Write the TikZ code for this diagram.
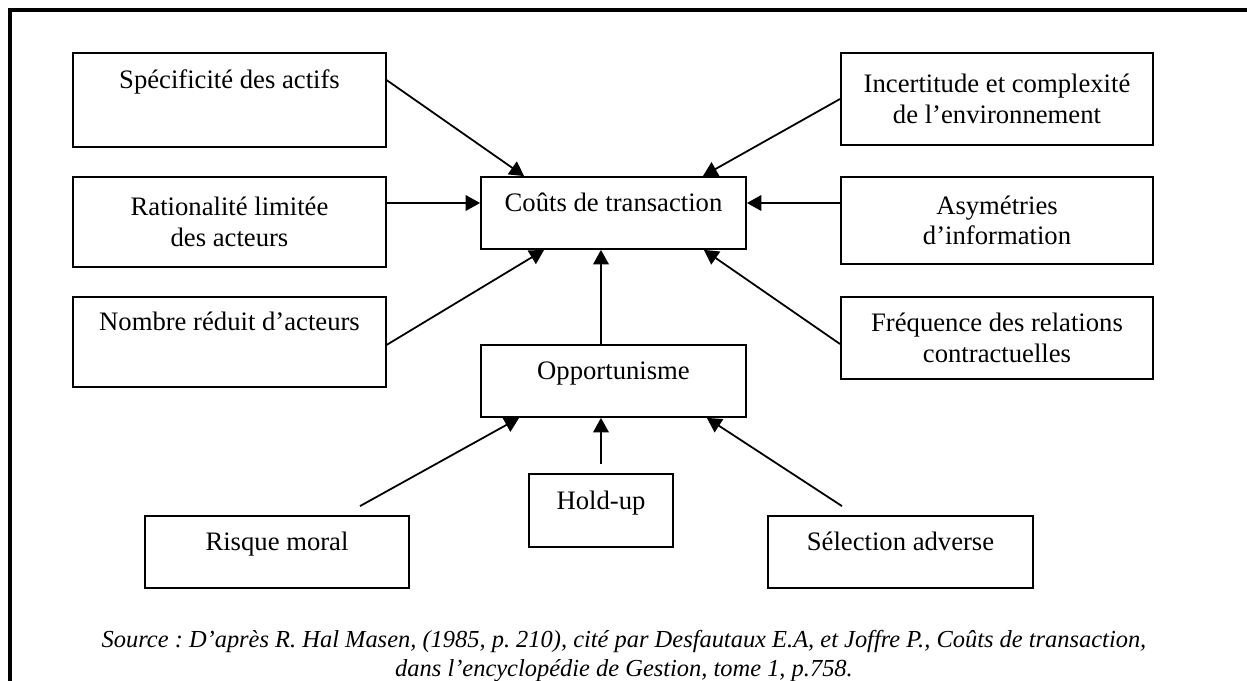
\documentclass[tikz,border=0pt]{standalone}
\usepackage{fontspec}
\setmainfont{Liberation Serif}
\usetikzlibrary{arrows.meta,calc}

\begin{document}
\begin{tikzpicture}[>={Triangle[length=6.5pt,width=7pt]}, x=0.45pt, y=-0.45pt, line width=0.8pt]
  \tikzstyle{K}=[draw, rectangle, inner sep=0pt, align=center, font=\fontsize{12}{13.8}\selectfont]
  \tikzstyle{W}=[K, minimum width=140.5pt]
  \tikzstyle{N}=[K, minimum width=119.25pt, minimum height=32.4pt]
  \tikzstyle{L}=[text height=8pt, text depth=9pt]
  \tikzstyle{H}=[text height=8pt, text depth=18pt]
  \tikzstyle{S}=[align=center, font=\fontsize{11}{12.8}\selectfont\itshape\frenchspacing]

  \useasboundingbox (0,0) rectangle (1247,681);
  \draw[line width=1.4pt] (1247,10) -- (10,10) -- (10,681);

  \node[W, H, minimum height=42.3pt] at (229.5,100) (spec) {Spécificité des actifs};
  \node[W, minimum height=40.5pt] at (229.5,222) (rational) {Rationalité limitée\\des acteurs};
  \node[W, H, minimum height=40.5pt] at (229.5,342) (nombre) {Nombre réduit d’acteurs};

  \node[W, minimum height=41.4pt] at (997,99) (incert) {Incertitude et complexité\\de l’environnement};
  \node[W, minimum height=39.15pt] at (997,220.5) (asym) {Asymétries\\d’information};
  \node[W, minimum height=36.9pt] at (997,338) (freq) {Fréquence des relations\\contractuelles};

  \node[N, L] at (613.5,213) (couts) {Coûts de transaction};
  \node[N, L] at (613.5,381) (oppor) {Opportunisme};

  \node[K, L, minimum width=64.8pt, minimum height=32.85pt] at (601,510.5) (holdup) {Hold-up};
  \node[N, L, minimum width=118.8pt] at (277,552) (risque) {Risque moral};
  \node[N, L] at (900.5,552) (selection) {Sélection adverse};

  \draw[->] ($(spec.east)+(0,-20)$) -- ($(couts.north west)+(44,0)$);
  \draw[->] (incert.west) -- ($(couts.north east)+(-44,0)$);
  \draw[->] ($(rational.east)+(0,-19)$) -- ($(couts.west)+(0,-10)$);
  \draw[->] ($(asym.west)+(0,-17.5)$) -- ($(couts.east)+(0,-10)$);
  \draw[->] ($(nombre.east)+(0,3)$) -- ($(couts.south west)+(64,0)$);
  \draw[->] ($(freq.west)+(0,6)$) -- ($(couts.south east)+(-43,0)$);
  \draw[->] ($(oppor.north)+(-12.5,0)$) -- ($(couts.south)+(-12.5,0)$);

  \draw[->] ($(risque.north)+(83,-9)$) -- ($(oppor.south west)+(39,0)$);
  \draw[->] ($(holdup.north)+(0,-9)$) -- (holdup.north |- oppor.south);
  \draw[->] ($(selection.north)+(-58.5,-9)$) -- ($(oppor.south east)+(-40,0)$);

  \node[S] at (624,656) (src) {Source : D’après R. Hal Masen, (1985, p. 210), cité par Desfautaux E.A, et Joffre P., Coûts de transaction,\\dans l’encyclopédie de Gestion, tome 1, p.758.};
\end{tikzpicture}
\end{document}
